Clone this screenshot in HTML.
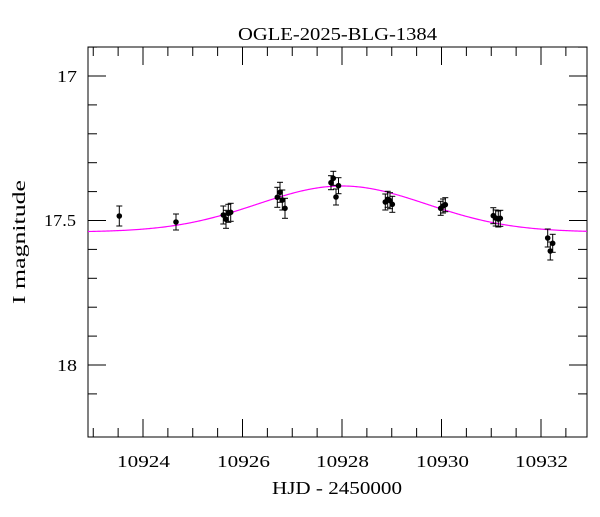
<!DOCTYPE html>
<html><head><meta charset="utf-8"><style>
body{margin:0;background:#fff;}
svg text{font-family:"Liberation Serif",serif;fill:#000;}
</style></head><body>
<svg id="s" width="600" height="512" xmlns="http://www.w3.org/2000/svg">
<rect width="600" height="512" fill="#fff"/>
<text x="238" y="40" font-size="18" textLength="199" lengthAdjust="spacingAndGlyphs">OGLE-2025-BLG-1384</text>
<text x="272" y="494" font-size="18" textLength="130" lengthAdjust="spacingAndGlyphs">HJD - 2450000</text>
<text transform="translate(25,304) rotate(-90)" font-size="18" textLength="124" lengthAdjust="spacingAndGlyphs">I magnitude</text>
<g font-size="17">
<text x="117" y="467" textLength="53" lengthAdjust="spacingAndGlyphs">10924</text>
<text x="217" y="467" textLength="53" lengthAdjust="spacingAndGlyphs">10926</text>
<text x="316" y="467" textLength="53" lengthAdjust="spacingAndGlyphs">10928</text>
<text x="416" y="467" textLength="53" lengthAdjust="spacingAndGlyphs">10930</text>
<text x="515" y="467" textLength="53" lengthAdjust="spacingAndGlyphs">10932</text>
</g>
<g font-size="17">
<text x="57" y="82" textLength="20" lengthAdjust="spacingAndGlyphs">17</text>
<text x="44" y="226" textLength="32" lengthAdjust="spacingAndGlyphs">17.5</text>
<text x="57" y="371" textLength="20" lengthAdjust="spacingAndGlyphs">18</text>
</g>
<g id="ax" stroke="#000" stroke-width="1" fill="none"></g>
<path id="model" fill="none" stroke="#ff00ff" stroke-width="1.2"/>
<g id="pts"></g>
</svg>
<script>
var L=88,R=587,T=47,B=437;
function X(t){return 143+(t-10924)*49.75;}
function Y(m){return 76+(m-17)*289;}
var ax=document.getElementById('ax'),h='<rect x="'+L+'" y="'+T+'" width="'+(R-L)+'" height="'+(B-T)+'"/>';
for(var t=10923;t<=10932.9;t+=0.5){var x=X(t),mj=(Math.round(t)%2==0&&t==Math.round(t));var l=mj?18:9;
h+='<line x1="'+x+'" y1="'+B+'" x2="'+x+'" y2="'+(B-l)+'"/><line x1="'+x+'" y1="'+T+'" x2="'+x+'" y2="'+(T+l)+'"/>';}
for(var i=0;i<=12;i++){var m=16.9+i*0.1;var y=Y(m);if(y<T||y>B)continue;var mj=Math.abs(m*2-Math.round(m*2))<1e-6;var l=mj?18:9;
h+='<line x1="'+L+'" y1="'+y+'" x2="'+(L+l)+'" y2="'+y+'"/><line x1="'+R+'" y1="'+y+'" x2="'+(R-l)+'" y2="'+y+'"/>';}
ax.innerHTML=h;
var d='';for(var x=L;x<=R;x+=1){var t=10924+(x-143)/49.75;var y=232-46*Math.exp(-Math.pow(t-10928,2)/(2*1.7*1.7));d+=(x==L?'M':'L')+x+','+y.toFixed(2);}
document.getElementById('model').setAttribute('d',d);
var P=[[119.3,216,10],[176,222,8],[223.3,215,9],[226,219.3,9],[228.3,213.3,9],[230.7,212.3,9],
[277.3,197.3,10],[280,192.3,10],[282.3,200,10],[285,208.3,10],
[331,182.7,7],[333.3,178.3,7],[336,197,8],[338.5,185.7,8],
[385.3,202,8],[387.7,199.3,8],[390,200.7,8],[392.3,204.3,8],
[440.7,208.3,7],[443,206,7],[445.3,204.7,7],
[493.3,215.7,8],[495.7,218,8],[498.3,219,8],[500.3,218.3,8],
[547.7,238,9],[550.3,251,9],[552.7,243.3,9]];
var g='';P.forEach(function(p){var x=p[0],y=p[1],e=p[2];
g+='<line x1="'+x+'" y1="'+(y-e)+'" x2="'+x+'" y2="'+(y+e)+'" stroke="#000"/><line x1="'+(x-3)+'" y1="'+(y-e)+'" x2="'+(x+3)+'" y2="'+(y-e)+'" stroke="#000"/><line x1="'+(x-3)+'" y1="'+(y+e)+'" x2="'+(x+3)+'" y2="'+(y+e)+'" stroke="#000"/><circle cx="'+x+'" cy="'+y+'" r="2.8" fill="#000"/>';});
document.getElementById('pts').innerHTML=g;
</script>
</body></html>
